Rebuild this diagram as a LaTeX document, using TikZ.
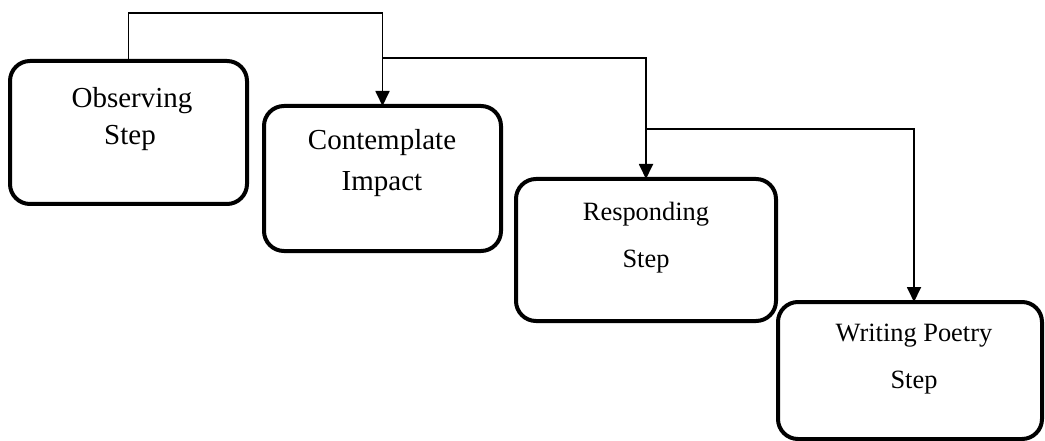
\documentclass[tikz,border=0pt]{standalone}
\usepackage{fontspec}
\setmainfont{Liberation Serif}
\usetikzlibrary{arrows.meta,calc}

\begin{document}
\begin{tikzpicture}[x=1pt,y=-1pt,
  stepbox/.style={draw=black,line width=4pt,rounded corners=20pt,fill=white,
    inner sep=0pt,outer sep=0pt},
  biglabel/.style={anchor=base,inner sep=0pt,font=\fontsize{29}{34}\selectfont},
  smalllabel/.style={anchor=base,inner sep=0pt,font=\fontsize{26.4}{31}\selectfont},
  flow/.style={draw=black,line width=1.8pt,
    -{Triangle[width=14pt,length=15pt]}}]
\useasboundingbox (0,0) rectangle (1045,441);

% step boxes
\node[stepbox,minimum width=237pt,minimum height=143pt] (box1) at (128.5,132.5) {};
\node[stepbox,minimum width=237pt,minimum height=145pt] (box2) at (382.5,178.5) {};
\node[stepbox,minimum width=260pt,minimum height=142pt] (box3) at (646,250) {};
\node[stepbox,minimum width=264pt,minimum height=137pt] (box4) at (910,370.5) {};

% box texts
\node[biglabel] (t1a) at (132,108) {Observing};
\node[biglabel] (t1b) at (130,145) {Step};
\node[biglabel] (t2a) at (382,150) {Contemplate};
\node[biglabel] (t2b) at (382,191) {Impact};
\node[smalllabel] (t3a) at (646,221) {Responding};
\node[smalllabel] (t3b) at (646,267) {Step};
\node[smalllabel] (t4a) at (914,341) {Writing Poetry};
\node[smalllabel] (t4b) at (914,388) {Step};

% rails of the connectors
\coordinate (r1) at (0,13);
\coordinate (r2) at (0,58);
\coordinate (r3) at (0,129);
\coordinate (in4) at ([xshift=4pt]box4.north);

% connectors
\draw[flow] (box1.north) -- (box1.north |- r1) -| (box2.north);
\draw[flow] (box2.north |- r2) -| (box3.north);
\draw[flow] (box3.north |- r3) -| (in4);
\end{tikzpicture}
\end{document}
